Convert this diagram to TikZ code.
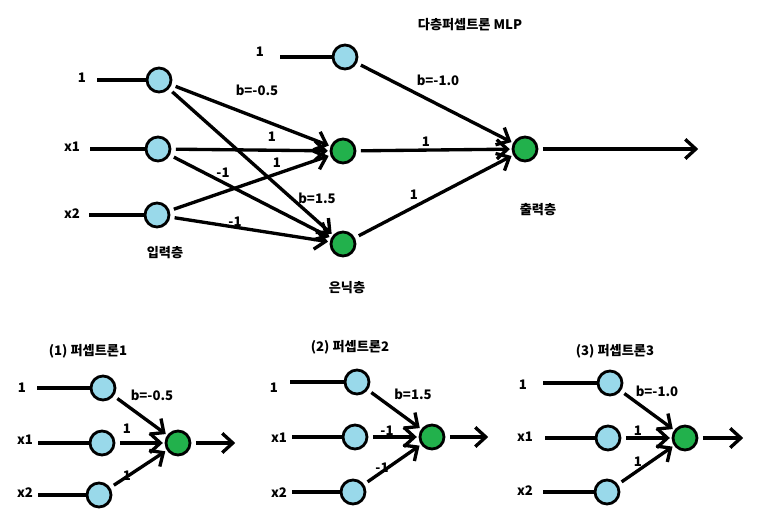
\documentclass[tikz,border=0pt]{standalone}
\usepackage{fontspec}
\setmainfont{Noto Sans CJK KR}
\usetikzlibrary{arrows.meta,positioning}
\definecolor{inblue}{HTML}{99D9EA}
\definecolor{sumgreen}{HTML}{22B14C}

\begin{document}
\begin{tikzpicture}[
            x=0.02cm, y=-0.02cm,
            unit/.style={circle, draw, line width=1.6pt, minimum size=0.48cm, inner sep=0pt},
            inunit/.style={unit, fill=inblue},
            sumunit/.style={unit, fill=sumgreen},
            lbl/.style={font=\fontsize{7.5}{9}\selectfont\bfseries, inner sep=0pt},
            feed/.style={line width=1.9pt},
            arrow/.style={feed, -{Straight Barb[length=6pt,width=11pt]}, shorten <=2.5pt, shorten >=1pt}
        ]
        \useasboundingbox (0,0) rectangle (762,513);

        \node[lbl] (title) at (470,25) {다층퍼셉트론 MLP};
        \node[inunit] (i1) at (159,80) {};
        \node[inunit] (ix1) at (158,149) {};
        \node[inunit] (ix2) at (157,215) {};
        \node[inunit] (hb) at (345,57) {};
        \node[sumunit] (h1) at (343,151) {};
        \node[sumunit] (h2) at (343,244) {};
        \node[sumunit] (o) at (525,149) {};
        \coordinate (oend) at (700,149);

        \node[lbl] (l1) at (82,78) {1};
        \node[lbl] (lx1) at (72,147) {x1};
        \node[lbl] (lx2) at (72,214) {x2};
        \node[lbl] (lhb) at (260,52) {1};
        \coordinate (s1) at (97,80);
        \coordinate (sx1) at (90,149);
        \coordinate (sx2) at (89,215);
        \coordinate (shb) at (280,57);

        \node[lbl] (inlayer) at (165,253) {입력층};
        \node[lbl] (hidlayer) at (347,288) {은닉층};
        \node[lbl] (outlayer) at (538,210) {출력층};

        \draw[feed] (s1) -- (i1);
        \draw[feed] (sx1) -- (ix1);
        \draw[feed] (sx2) -- (ix2);
        \draw[feed] (shb) -- (hb);
        \draw[arrow] (i1) -- (h1);
        \draw[arrow] (i1) -- (h2);
        \draw[arrow] (ix1) -- (h1);
        \draw[arrow] (ix1) -- (h2);
        \draw[arrow] (ix2) -- (h1);
        \draw[arrow] (ix2) -- (h2);
        \draw[arrow] (hb) -- (o);
        \draw[arrow] (h1) -- (o);
        \draw[arrow] (h2) -- (o);
        \draw[arrow] (o) -- (oend);

        \node[lbl] (w1) at (257,90) {b=-0.5};
        \node[lbl] (w2) at (272,137) {1};
        \node[lbl] (w3) at (277,163) {1};
        \node[lbl] (w4) at (223,173) {-1};
        \node[lbl] (w5) at (317,198) {b=1.5};
        \node[lbl] (w6) at (235,222) {-1};
        \node[lbl] (w7) at (438,80) {b=-1.0};
        \node[lbl] (w8) at (426,142) {1};
        \node[lbl] (w9) at (414,195) {1};

        \node[lbl] (pa) at (88,351) {(1) 퍼셉트론1};
        \node[inunit] (pa1) at (103,388) {};
        \node[inunit] (pax1) at (102,443) {};
        \node[inunit] (pax2) at (99,495) {};
        \node[sumunit] (pao) at (178,443) {};
        \coordinate (paend) at (237,443);
        \node[lbl] (pal1) at (22,388) {1};
        \node[lbl] (palx1) at (25,440) {x1};
        \node[lbl] (palx2) at (25,493) {x2};
        \coordinate (pas1) at (37,388);
        \coordinate (pasx1) at (38,443);
        \coordinate (pasx2) at (38,495);
        \draw[feed] (pas1) -- (pa1);
        \draw[feed] (pasx1) -- (pax1);
        \draw[feed] (pasx2) -- (pax2);
        \draw[arrow] (pa1) -- (pao);
        \draw[arrow] (pax1) -- (pao);
        \draw[arrow] (pax2) -- (pao);
        \draw[arrow] (pao) -- (paend);
        \node[lbl] at (152,395) {b=-0.5};
        \node[lbl] at (127,429) {1};
        \node[lbl] at (127,476) {1};

        \node[lbl] (pb) at (350,347) {(2) 퍼셉트론2};
        \node[inunit] (pb1) at (357,382) {};
        \node[inunit] (pbx1) at (355,437) {};
        \node[inunit] (pbx2) at (353,492) {};
        \node[sumunit] (pbo) at (432,437) {};
        \coordinate (pbend) at (490,437);
        \node[lbl] (pbl1) at (274,388) {1};
        \node[lbl] (pblx1) at (279,438) {x1};
        \node[lbl] (pblx2) at (279,493) {x2};
        \coordinate (pbs1) at (290,382);
        \coordinate (pbsx1) at (292,437);
        \coordinate (pbsx2) at (292,492);
        \draw[feed] (pbs1) -- (pb1);
        \draw[feed] (pbsx1) -- (pbx1);
        \draw[feed] (pbsx2) -- (pbx2);
        \draw[arrow] (pb1) -- (pbo);
        \draw[arrow] (pbx1) -- (pbo);
        \draw[arrow] (pbx2) -- (pbo);
        \draw[arrow] (pbo) -- (pbend);
        \node[lbl] at (413,394) {b=1.5};
        \node[lbl] at (387,431) {-1};
        \node[lbl] at (382,468) {-1};

        \node[lbl] (pc) at (615,351) {(3) 퍼셉트론3};
        \node[inunit] (pc1) at (610,383) {};
        \node[inunit] (pcx1) at (608,438) {};
        \node[inunit] (pcx2) at (607,492) {};
        \node[sumunit] (pco) at (685,438) {};
        \coordinate (pcend) at (745,438);
        \node[lbl] (pcl1) at (523,385) {1};
        \node[lbl] (pclx1) at (525,437) {x1};
        \node[lbl] (pclx2) at (525,491) {x2};
        \coordinate (pcs1) at (543,383);
        \coordinate (pcsx1) at (545,438);
        \coordinate (pcsx2) at (543,492);
        \draw[feed] (pcs1) -- (pc1);
        \draw[feed] (pcsx1) -- (pcx1);
        \draw[feed] (pcsx2) -- (pcx2);
        \draw[arrow] (pc1) -- (pco);
        \draw[arrow] (pcx1) -- (pco);
        \draw[arrow] (pcx2) -- (pco);
        \draw[arrow] (pco) -- (pcend);
        \node[lbl] at (657,391) {b=-1.0};
        \node[lbl] at (638,431) {1};
        \node[lbl] at (638,462) {1};
        \end{tikzpicture}
\end{document}
